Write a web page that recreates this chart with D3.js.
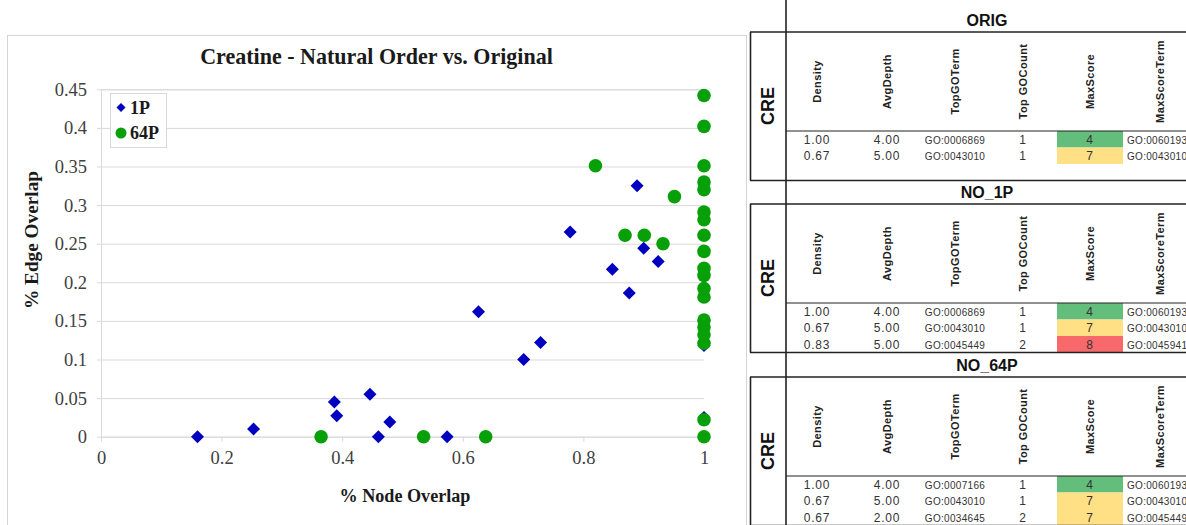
<!DOCTYPE html>
<html>
<head>
<meta charset="utf-8">
<script src="https://cdn.jsdelivr.net/npm/d3@7/dist/d3.min.js"></script>
<style>
  html, body { margin: 0; padding: 0; background: #fff; }
  svg { display: block; }
</style>
</head>
<body>
<svg id="chart" width="1186" height="525"></svg>
<script>
// ---------------- data ----------------
const chartTitle = "Creatine - Natural Order vs. Original";
const xLabel = "% Node Overlap";
const yLabel = "% Edge Overlap";
const seriesNames = ["1P", "64P"];

const xTicks = [0, 0.2, 0.4, 0.6, 0.8, 1];
const xTickLabels = ["0", "0.2", "0.4", "0.6", "0.8", "1"];
const yTicks = [0, 0.05, 0.1, 0.15, 0.2, 0.25, 0.3, 0.35, 0.4, 0.45];
const yTickLabels = ["0", "0.05", "0.1", "0.15", "0.2", "0.25", "0.3", "0.35", "0.4", "0.45"];

const p1X = [0.160, 0.253, 0.387, 0.391, 0.446, 0.460, 0.479, 0.574, 0.626, 0.701, 0.729, 0.778, 0.848, 0.876, 0.889, 0.900, 0.924, 1.0, 1.0];
const p1Y = [0, 0.010, 0.045, 0.027, 0.055, 0, 0.019, 0, 0.162, 0.100, 0.122, 0.265, 0.217, 0.186, 0.325, 0.244, 0.227, 0.118, 0.025];

const p64X = [0.365, 0.535, 0.638, 0.820, 0.869, 0.901, 0.932, 0.951,
  1, 1, 1, 1, 1, 1, 1, 1, 1, 1, 1, 1, 1, 1, 1, 1, 1, 1, 1];
const p64Y = [0, 0, 0, 0.351, 0.261, 0.261, 0.250, 0.311,
  0.442, 0.402, 0.351, 0.330, 0.320, 0.291, 0.281, 0.261, 0.240, 0.218, 0.209, 0.192, 0.181, 0.151, 0.142, 0.132, 0.121, 0.022, 0];

// table data
const panelNames = ["ORIG", "NO_1P", "NO_64P"];
const rowLabel = "CRE";
const columnNames = ["Density", "AvgDepth", "TopGOTerm", "Top GOCount", "MaxScore", "MaxScoreTerm"];
const densityVals = [[1.00, 0.67], [1.00, 0.67, 0.83], [1.00, 0.67, 0.67]];
const avgDepthVals = [[4.00, 5.00], [4.00, 5.00, 5.00], [4.00, 5.00, 2.00]];
const topGOTermVals = [["GO:0006869", "GO:0043010"], ["GO:0006869", "GO:0043010", "GO:0045449"], ["GO:0007166", "GO:0043010", "GO:0034645"]];
const topGOCountVals = [[1, 1], [1, 1, 2], [1, 1, 2]];
const maxScoreVals = [[4, 7], [4, 7, 8], [4, 7, 7]];
const maxScoreTermVals = [["GO:0060193", "GO:0043010"], ["GO:0060193", "GO:0043010", "GO:0045941"], ["GO:0060193", "GO:0043010", "GO:0045449"]];

// ---------------- drawing ----------------
const svg = d3.select("#chart");
svg.append("rect").attr("width", 1186).attr("height", 525).attr("fill", "#fff");

const serif = "'Liberation Serif', 'DejaVu Serif', serif";
const sans = "'Liberation Sans', Arial, sans-serif";
const blue = "#0000c0";
const green = "#08a008";
const gridColor = "#d9d9d9";

// chart frame
svg.append("rect").attr("x", 7.5).attr("y", 35.5).attr("width", 739).attr("height", 500)
  .attr("fill", "#fff").attr("stroke", "#d4d4d4").attr("stroke-width", 1);

const x = d3.scaleLinear().domain([0, 1]).range([101, 704]);
const y = d3.scaleLinear().domain([0, 0.45]).range([436.7, 89.3]);

// gridlines + y axis
const yAxis = d3.axisLeft(y).tickValues(yTicks).tickSize(-(704 - 101)).tickFormat((d, i) => yTickLabels[i]).tickPadding(10);
const gy = svg.append("g").attr("transform", "translate(101,0)").call(yAxis);
gy.select(".domain").attr("stroke", gridColor);
gy.selectAll(".tick line").attr("stroke", gridColor).attr("x1", -4);
gy.selectAll(".tick text").attr("font-family", serif).attr("font-size", 18.5).attr("fill", "#404040").attr("x", -14);

const xAxis = d3.axisBottom(x).tickValues(xTicks).tickSize(5).tickFormat((d, i) => xTickLabels[i]).tickPadding(9);
const gx = svg.append("g").attr("transform", "translate(0,436.7)").call(xAxis);
gx.select(".domain").remove();
gx.selectAll(".tick line").attr("stroke", gridColor);
gx.selectAll(".tick text").attr("font-family", serif).attr("font-size", 18.5).attr("fill", "#404040");

// title
const title = svg.append("text").attr("x", 376.5).attr("y", 64).attr("text-anchor", "middle")
  .attr("font-family", serif).attr("font-weight", "bold").attr("font-size", 20).attr("fill", "#1a1a1a").text(chartTitle);
function fitText(sel, target) {
  const len = sel.node().getComputedTextLength();
  const fs = parseFloat(sel.attr("font-size"));
  sel.attr("font-size", fs * target / len);
}
fitText(title, 353);

// axis labels
const xl = svg.append("text").attr("x", 405).attr("y", 502).attr("text-anchor", "middle")
  .attr("font-family", serif).attr("font-weight", "bold").attr("font-size", 17).attr("fill", "#1a1a1a").text(xLabel);
fitText(xl, 131);
const yl = svg.append("text").attr("transform", "translate(38,240) rotate(-90)").attr("text-anchor", "middle")
  .attr("font-family", serif).attr("font-weight", "bold").attr("font-size", 17).attr("fill", "#1a1a1a").text(yLabel);
fitText(yl, 138);

// points
function diamondPath(r) { return `M0,${-r}L${r},0L0,${r}L${-r},0Z`; }
const p1 = p1X.map((v, i) => [v, p1Y[i]]);
const p64 = p64X.map((v, i) => [v, p64Y[i]]);
svg.append("g").selectAll("path").data(p1).join("path")
  .attr("d", diamondPath(6.5)).attr("transform", d => `translate(${x(d[0])},${y(d[1])})`).attr("fill", blue);
svg.append("g").selectAll("circle").data(p64).join("circle")
  .attr("cx", d => x(d[0])).attr("cy", d => y(d[1])).attr("r", 6.8).attr("fill", green);

// legend
const lg = svg.append("g");
lg.append("rect").attr("x", 110.5).attr("y", 93.5).attr("width", 56).attr("height", 54)
  .attr("fill", "#fff").attr("stroke", "#d9d9d9");
lg.append("path").attr("d", diamondPath(4.5)).attr("transform", "translate(121,107.5)").attr("fill", blue);
lg.append("circle").attr("cx", 121).attr("cy", 133).attr("r", 5.5).attr("fill", green);
seriesNames.forEach((n, i) => {
  lg.append("text").attr("x", 130).attr("y", 113.5 + i * 25.5).attr("font-family", serif).attr("font-weight", "bold")
    .attr("font-size", 18).attr("fill", "#1a1a1a").text(n);
});

// ---------------- tables ----------------
const tg = svg.append("g");
const panelTop = [32, 204, 377];
const headerH = 99;
const rowH = 16.5;
const colX = [817, 887, 955, 1023, 1090, 1160];
const scoreColor = { 4: "#63be7b", 7: "#ffe084", 8: "#f8696b" };
const lineColor = "#222";

panelNames.forEach((name, p) => {
  const top = panelTop[p];
  const hl = top + headerH;
  const bottom = hl + rowH * 3;
  tg.append("text").attr("x", 987).attr("y", top - 6.5).attr("text-anchor", "middle")
    .attr("font-family", sans).attr("font-weight", "bold").attr("font-size", 16).attr("fill", "#111").text(name);
  maxScoreVals[p].forEach((s, r) => {
    tg.append("rect").attr("x", 1057).attr("y", hl + r * rowH).attr("width", 66).attr("height", rowH)
      .attr("fill", scoreColor[s]);
  });
  tg.append("line").attr("x1", 750).attr("x2", 1186).attr("y1", top).attr("y2", top).attr("stroke", lineColor).attr("stroke-width", 1.6);
  tg.append("line").attr("x1", 750).attr("x2", 1186).attr("y1", bottom).attr("y2", bottom).attr("stroke", lineColor).attr("stroke-width", 1.6);
  tg.append("line").attr("x1", 750.5).attr("x2", 750.5).attr("y1", top).attr("y2", bottom).attr("stroke", lineColor).attr("stroke-width", 1.6);
  tg.append("line").attr("x1", 786).attr("x2", 1186).attr("y1", hl).attr("y2", hl).attr("stroke", lineColor).attr("stroke-width", 1.2);
  tg.append("text").attr("transform", `translate(774,${top + 74}) rotate(-90)`).attr("text-anchor", "middle")
    .attr("font-family", sans).attr("font-weight", "bold").attr("font-size", 18).attr("fill", "#111").text(rowLabel);
  columnNames.forEach((c, i) => {
    tg.append("text").attr("transform", `translate(${colX[i] + 4},${top + 49.5}) rotate(-90)`).attr("text-anchor", "middle")
      .attr("font-family", sans).attr("font-weight", "bold").attr("font-size", 11).attr("letter-spacing", 0.4)
      .attr("fill", "#222").text(c);
  });
  densityVals[p].forEach((d, r) => {
    const ty = hl + r * rowH + 12.5;
    const cells = [d3.format(".2f")(d), d3.format(".2f")(avgDepthVals[p][r]), topGOTermVals[p][r], String(topGOCountVals[p][r]), String(maxScoreVals[p][r])];
    cells.forEach((t, i) => {
      tg.append("text").attr("x", colX[i]).attr("y", ty).attr("text-anchor", "middle")
        .attr("font-family", sans).attr("font-size", i === 2 ? 10 : 12).attr("letter-spacing", i === 2 ? 0.3 : 0.8)
        .attr("fill", "#333").text(t);
    });
    tg.append("text").attr("x", 1127).attr("y", ty).attr("font-family", sans).attr("font-size", 10).attr("letter-spacing", 0.3)
      .attr("fill", "#333").text(maxScoreTermVals[p][r]);
  });
});
tg.append("line").attr("x1", 786).attr("x2", 786).attr("y1", 0).attr("y2", 525).attr("stroke", lineColor).attr("stroke-width", 1.6);
</script>
</body>
</html>
